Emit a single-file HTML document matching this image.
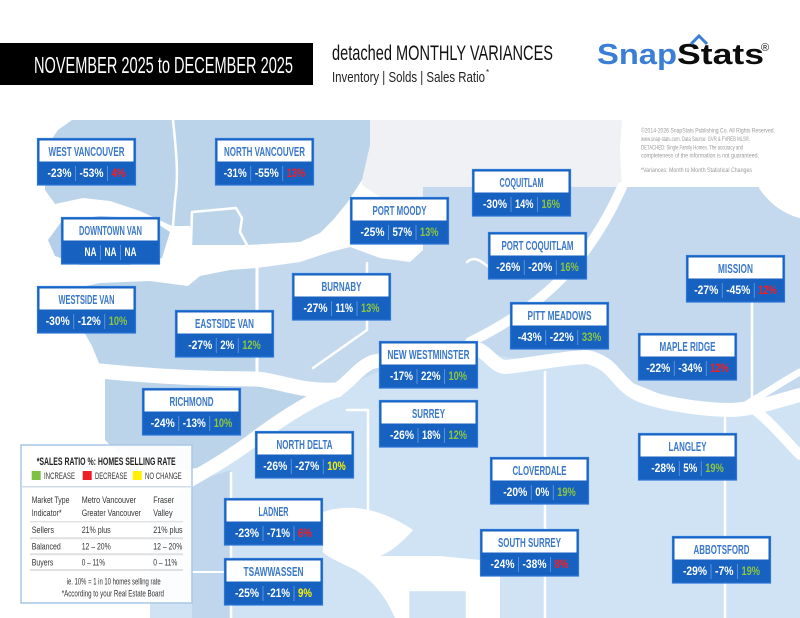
<!DOCTYPE html>
<html><head><meta charset="utf-8">
<style>
html,body{margin:0;padding:0;background:#fff;}
svg{display:block;}
.f{font-family:"Liberation Sans Narrow","Liberation Sans",Arial,sans-serif;}
.t{font-family:"Liberation Sans Narrow","Liberation Sans",Arial,sans-serif;font-weight:bold;font-size:12.5px;fill:#3a78c9;}
.n{font-family:"Liberation Sans Narrow","Liberation Sans",Arial,sans-serif;font-weight:bold;font-size:12px;fill:#fff;}
.g{fill:#8cc63f;}.r{fill:#ff1a1a;}.y{fill:#fff200;}
.lg{font-family:"Liberation Sans Narrow","Liberation Sans",Arial,sans-serif;font-size:9px;fill:#333;}
.cp{font-family:"Liberation Sans Narrow","Liberation Sans",Arial,sans-serif;font-size:6.3px;fill:#9a9a9a;}
</style></head>
<body>
<svg width="800" height="618" viewBox="0 0 800 618" xmlns="http://www.w3.org/2000/svg">
<rect x="0" y="0" width="800" height="618" fill="#fff"/>

<!-- MAP -->
<path d="M365,120 L622,120 L620,150 L622,187 L423,187 L423,212 L405,205 L385,200 L362,185 Z" fill="#eff1f4"/>
<path d="M72,120 L370,120 L370,145 L362,180 L347,203 L333,220 L320,233 L300,242 L247,245 L192,245 L190,226 L172,226 L140,211 L110,201 L83,198 L55,204 L45,190 L44,150 L58,130 Z" fill="#bcd4ea"/>
<path d="M257,268 L300,262 L330,252 L350,247 L380,258 L410,262 L423,250 L423,187 L763,187 L775,206 L800,214 L800,400 L700,410 L600,370 L500,360 L400,365 L340,392 L300,395 L257,380 Z" fill="#c4d9ee"/>
<path d="M58,292 L100,283 L150,281 L188,286 L200,276 L230,270 L257,268 L257,390 L110,390 L92,346 L76,318 Z" fill="#bcd4ea"/>
<path d="M105,375 L257,375 L300,395 L340,392 L300,420 L257,445 L223,465 L180,470 L120,455 L105,440 Z" fill="#bcd4ea"/>
<path d="M150,510 L190,480 L257,437 L337,390 L400,362 L480,352 L540,363 L600,365 L640,392 L700,408 L800,398 L800,618 L150,618 Z" fill="#d0e3f4"/>
<path d="M192,482 L231,470 L231,618 L192,618 Z" fill="#bfd6ec"/>
<path d="M48,240 L62,221 L100,216 L150,219 L170,232 L162,258 L130,265 L80,265 L55,256 Z" fill="#b5cfe9"/>
<path d="M307,390 L328,386 L332,400 L312,408 Z" fill="#b3cde8"/>

<!-- white water bodies -->
<path d="M323,512 C350,503 380,508 413,530 C400,545 388,553 380,556 L440,556 L500,562 L500,618 L395,618 C385,595 370,575 345,565 C335,560 326,556 323,552 Z" fill="#fff"/>
<rect x="408" y="590" width="59" height="30" fill="#d0e3f4" stroke="#fff" stroke-width="2.5"/>

<!-- rivers -->
<g fill="none" stroke="#fff" stroke-linecap="round" stroke-linejoin="round">
<path d="M100,371 C150,376 200,379 257,379 C280,381 300,392 337,390" stroke-width="15"/>
<path d="M120,520 C150,500 170,490 190,480 C215,466 240,450 257,437 C280,420 310,400 337,390 C350,382 358,368 372,362 C400,356 440,352 480,350 C490,356 495,366 505,367 C530,365 560,358 587,357 C600,360 608,366 613,372 C622,382 628,390 640,395 C660,403 700,410 733,410 C760,408 780,400 800,395" stroke-width="14"/>
<path d="M622,187 C605,225 585,255 560,280 C535,305 505,325 470,342" stroke-width="10"/>
<path d="M748,405 C770,420 785,440 800,455" stroke-width="10"/>
<path d="M750,402 C768,392 785,380 800,372" stroke-width="7"/>
<path d="M763,187 C772,200 785,210 800,214" stroke-width="8"/>
<path d="M173,120 C176,150 179,175 175,200 L173,226" stroke-width="2.5"/>
<path d="M191,244 L192,212 L236,208 L242,218 L240,232 L247,245" stroke-width="2.5"/>
<path d="M257,266 L257,375" stroke-width="3"/>
<path d="M367,263 L367,330 L313,368" stroke-width="2.5"/>
<path d="M752,297 L752,400" stroke-width="2.5"/>
<path d="M545,372 L545,618" stroke-width="2.5"/>
<path d="M725,418 L725,618" stroke-width="2.5"/>
<path d="M231,473 L231,618" stroke-width="2.5"/>
<path d="M347,410 L368,410 L368,513" stroke-width="2.5"/>
<path d="M192,572 L228,572" stroke-width="2"/>
<path d="M467,262 C475,255 482,262 490,268" stroke-width="2.5"/>
</g>

<!-- BOXES -->
<defs>
<g id="bx">
<rect x="0.5" y="0.5" width="98" height="46.5" fill="#1762c0" stroke="#2a75d6" stroke-width="1.2"/>
<rect x="2.5" y="2.5" width="94" height="21" fill="#fff"/>
</g>
</defs>

<!-- West Vancouver -->
<g transform="translate(37,138)"><use href="#bx"/>
<text class="t" x="49.5" y="17.8" text-anchor="middle" textLength="76" lengthAdjust="spacingAndGlyphs">WEST VANCOUVER</text>
<line x1="38.5" y1="28" x2="38.5" y2="43" stroke="#6a9de0" stroke-width="0.8"/><line x1="70.5" y1="28" x2="70.5" y2="43" stroke="#6a9de0" stroke-width="0.8"/>
<text class="n" x="10.5" y="39" textLength="24" lengthAdjust="spacingAndGlyphs">-23%</text>
<text class="n" x="42.5" y="39" textLength="24" lengthAdjust="spacingAndGlyphs">-53%</text>
<text class="n r" x="74.5" y="39" textLength="14" lengthAdjust="spacingAndGlyphs">4%</text></g>

<!-- North Vancouver -->
<g transform="translate(215,138)"><use href="#bx"/>
<text class="t" x="49.5" y="17.8" text-anchor="middle" textLength="81" lengthAdjust="spacingAndGlyphs">NORTH VANCOUVER</text>
<line x1="35.75" y1="28" x2="35.75" y2="43" stroke="#6a9de0" stroke-width="0.8"/><line x1="67.75" y1="28" x2="67.75" y2="43" stroke="#6a9de0" stroke-width="0.8"/>
<text class="n" x="8.75" y="39" textLength="23" lengthAdjust="spacingAndGlyphs">-31%</text>
<text class="n" x="39.75" y="39" textLength="24" lengthAdjust="spacingAndGlyphs">-55%</text>
<text class="n r" x="71.75" y="39" textLength="18.5" lengthAdjust="spacingAndGlyphs">13%</text></g>

<!-- Downtown Van -->
<g transform="translate(61,217)"><use href="#bx"/>
<text class="t" x="49.5" y="17.8" text-anchor="middle" textLength="63" lengthAdjust="spacingAndGlyphs">DOWNTOWN VAN</text>
<line x1="39.5" y1="28" x2="39.5" y2="43" stroke="#6a9de0" stroke-width="0.8"/><line x1="59.5" y1="28" x2="59.5" y2="43" stroke="#6a9de0" stroke-width="0.8"/>
<text class="n" x="23.5" y="39" textLength="12" lengthAdjust="spacingAndGlyphs">NA</text>
<text class="n" x="43.5" y="39" textLength="12" lengthAdjust="spacingAndGlyphs">NA</text>
<text class="n" x="63.5" y="39" textLength="12" lengthAdjust="spacingAndGlyphs">NA</text></g>

<!-- Westside Van -->
<g transform="translate(37,286)"><use href="#bx"/>
<text class="t" x="49.5" y="17.8" text-anchor="middle" textLength="56" lengthAdjust="spacingAndGlyphs">WESTSIDE VAN</text>
<line x1="36.75" y1="28" x2="36.75" y2="43" stroke="#6a9de0" stroke-width="0.8"/><line x1="67.75" y1="28" x2="67.75" y2="43" stroke="#6a9de0" stroke-width="0.8"/>
<text class="n" x="8.75" y="39" textLength="24" lengthAdjust="spacingAndGlyphs">-30%</text>
<text class="n" x="40.75" y="39" textLength="23" lengthAdjust="spacingAndGlyphs">-12%</text>
<text class="n g" x="71.75" y="39" textLength="18.5" lengthAdjust="spacingAndGlyphs">10%</text></g>

<!-- Eastside Van -->
<g transform="translate(175,310)"><use href="#bx"/>
<text class="t" x="49.5" y="17.8" text-anchor="middle" textLength="59" lengthAdjust="spacingAndGlyphs">EASTSIDE VAN</text>
<line x1="41.25" y1="28" x2="41.25" y2="43" stroke="#6a9de0" stroke-width="0.8"/><line x1="63.25" y1="28" x2="63.25" y2="43" stroke="#6a9de0" stroke-width="0.8"/>
<text class="n" x="13.25" y="39" textLength="24" lengthAdjust="spacingAndGlyphs">-27%</text>
<text class="n" x="45.25" y="39" textLength="14" lengthAdjust="spacingAndGlyphs">2%</text>
<text class="n g" x="67.25" y="39" textLength="18.5" lengthAdjust="spacingAndGlyphs">12%</text></g>

<!-- Burnaby -->
<g transform="translate(292,273)"><use href="#bx"/>
<text class="t" x="49.5" y="17.8" text-anchor="middle" textLength="40" lengthAdjust="spacingAndGlyphs">BURNABY</text>
<line x1="39.5" y1="28" x2="39.5" y2="43" stroke="#6a9de0" stroke-width="0.8"/><line x1="65" y1="28" x2="65" y2="43" stroke="#6a9de0" stroke-width="0.8"/>
<text class="n" x="11.5" y="39" textLength="24" lengthAdjust="spacingAndGlyphs">-27%</text>
<text class="n" x="43.5" y="39" textLength="17.5" lengthAdjust="spacingAndGlyphs">11%</text>
<text class="n g" x="69" y="39" textLength="18.5" lengthAdjust="spacingAndGlyphs">13%</text></g>

<!-- Richmond -->
<g transform="translate(142,388)"><use href="#bx"/>
<text class="t" x="49.5" y="17.8" text-anchor="middle" textLength="44" lengthAdjust="spacingAndGlyphs">RICHMOND</text>
<line x1="36.75" y1="28" x2="36.75" y2="43" stroke="#6a9de0" stroke-width="0.8"/><line x1="67.75" y1="28" x2="67.75" y2="43" stroke="#6a9de0" stroke-width="0.8"/>
<text class="n" x="8.75" y="39" textLength="24" lengthAdjust="spacingAndGlyphs">-24%</text>
<text class="n" x="40.75" y="39" textLength="23" lengthAdjust="spacingAndGlyphs">-13%</text>
<text class="n g" x="71.75" y="39" textLength="18.5" lengthAdjust="spacingAndGlyphs">10%</text></g>

<!-- North Delta -->
<g transform="translate(255,431)"><use href="#bx"/>
<text class="t" x="49.5" y="17.8" text-anchor="middle" textLength="56" lengthAdjust="spacingAndGlyphs">NORTH DELTA</text>
<line x1="36.25" y1="28" x2="36.25" y2="43" stroke="#6a9de0" stroke-width="0.8"/><line x1="68.25" y1="28" x2="68.25" y2="43" stroke="#6a9de0" stroke-width="0.8"/>
<text class="n" x="8.25" y="39" textLength="24" lengthAdjust="spacingAndGlyphs">-26%</text>
<text class="n" x="40.25" y="39" textLength="24" lengthAdjust="spacingAndGlyphs">-27%</text>
<text class="n y" x="72.25" y="39" textLength="18.5" lengthAdjust="spacingAndGlyphs">10%</text></g>

<!-- Ladner -->
<g transform="translate(224,498)"><use href="#bx"/>
<text class="t" x="49.5" y="17.8" text-anchor="middle" textLength="30" lengthAdjust="spacingAndGlyphs">LADNER</text>
<line x1="39" y1="28" x2="39" y2="43" stroke="#6a9de0" stroke-width="0.8"/><line x1="70" y1="28" x2="70" y2="43" stroke="#6a9de0" stroke-width="0.8"/>
<text class="n" x="11" y="39" textLength="24" lengthAdjust="spacingAndGlyphs">-23%</text>
<text class="n" x="43" y="39" textLength="23" lengthAdjust="spacingAndGlyphs">-71%</text>
<text class="n r" x="74" y="39" textLength="14" lengthAdjust="spacingAndGlyphs">6%</text></g>

<!-- Tsawwassen -->
<g transform="translate(224,558)"><use href="#bx"/>
<text class="t" x="49.5" y="17.8" text-anchor="middle" textLength="60" lengthAdjust="spacingAndGlyphs">TSAWWASSEN</text>
<line x1="39" y1="28" x2="39" y2="43" stroke="#6a9de0" stroke-width="0.8"/><line x1="70" y1="28" x2="70" y2="43" stroke="#6a9de0" stroke-width="0.8"/>
<text class="n" x="11" y="39" textLength="24" lengthAdjust="spacingAndGlyphs">-25%</text>
<text class="n" x="43" y="39" textLength="23" lengthAdjust="spacingAndGlyphs">-21%</text>
<text class="n y" x="74" y="39" textLength="14" lengthAdjust="spacingAndGlyphs">9%</text></g>

<!-- Port Moody -->
<g transform="translate(350,197)"><use href="#bx"/>
<text class="t" x="49.5" y="17.8" text-anchor="middle" textLength="54" lengthAdjust="spacingAndGlyphs">PORT MOODY</text>
<line x1="38.5" y1="28" x2="38.5" y2="43" stroke="#6a9de0" stroke-width="0.8"/><line x1="66" y1="28" x2="66" y2="43" stroke="#6a9de0" stroke-width="0.8"/>
<text class="n" x="10.5" y="39" textLength="24" lengthAdjust="spacingAndGlyphs">-25%</text>
<text class="n" x="42.5" y="39" textLength="19.5" lengthAdjust="spacingAndGlyphs">57%</text>
<text class="n g" x="70" y="39" textLength="18.5" lengthAdjust="spacingAndGlyphs">13%</text></g>

<!-- Coquitlam -->
<g transform="translate(472,169)"><use href="#bx"/>
<text class="t" x="49.5" y="17.8" text-anchor="middle" textLength="44" lengthAdjust="spacingAndGlyphs">COQUITLAM</text>
<line x1="39" y1="28" x2="39" y2="43" stroke="#6a9de0" stroke-width="0.8"/><line x1="65.5" y1="28" x2="65.5" y2="43" stroke="#6a9de0" stroke-width="0.8"/>
<text class="n" x="11" y="39" textLength="24" lengthAdjust="spacingAndGlyphs">-30%</text>
<text class="n" x="43" y="39" textLength="18.5" lengthAdjust="spacingAndGlyphs">14%</text>
<text class="n g" x="69.5" y="39" textLength="18.5" lengthAdjust="spacingAndGlyphs">16%</text></g>

<!-- Port Coquitlam -->
<g transform="translate(488,232)"><use href="#bx"/>
<text class="t" x="49.5" y="17.8" text-anchor="middle" textLength="72" lengthAdjust="spacingAndGlyphs">PORT COQUITLAM</text>
<line x1="36.25" y1="28" x2="36.25" y2="43" stroke="#6a9de0" stroke-width="0.8"/><line x1="68.25" y1="28" x2="68.25" y2="43" stroke="#6a9de0" stroke-width="0.8"/>
<text class="n" x="8.25" y="39" textLength="24" lengthAdjust="spacingAndGlyphs">-26%</text>
<text class="n" x="40.25" y="39" textLength="24" lengthAdjust="spacingAndGlyphs">-20%</text>
<text class="n g" x="72.25" y="39" textLength="18.5" lengthAdjust="spacingAndGlyphs">16%</text></g>

<!-- Mission -->
<g transform="translate(686,255)"><use href="#bx"/>
<text class="t" x="49.5" y="17.8" text-anchor="middle" textLength="35" lengthAdjust="spacingAndGlyphs">MISSION</text>
<line x1="36.25" y1="28" x2="36.25" y2="43" stroke="#6a9de0" stroke-width="0.8"/><line x1="68.25" y1="28" x2="68.25" y2="43" stroke="#6a9de0" stroke-width="0.8"/>
<text class="n" x="8.25" y="39" textLength="24" lengthAdjust="spacingAndGlyphs">-27%</text>
<text class="n" x="40.25" y="39" textLength="24" lengthAdjust="spacingAndGlyphs">-45%</text>
<text class="n r" x="72.25" y="39" textLength="18.5" lengthAdjust="spacingAndGlyphs">12%</text></g>

<!-- Pitt Meadows -->
<g transform="translate(510,302)"><use href="#bx"/>
<text class="t" x="49.5" y="17.8" text-anchor="middle" textLength="64" lengthAdjust="spacingAndGlyphs">PITT MEADOWS</text>
<line x1="35.75" y1="28" x2="35.75" y2="43" stroke="#6a9de0" stroke-width="0.8"/><line x1="67.75" y1="28" x2="67.75" y2="43" stroke="#6a9de0" stroke-width="0.8"/>
<text class="n" x="7.75" y="39" textLength="24" lengthAdjust="spacingAndGlyphs">-43%</text>
<text class="n" x="39.75" y="39" textLength="24" lengthAdjust="spacingAndGlyphs">-22%</text>
<text class="n g" x="71.75" y="39" textLength="19.5" lengthAdjust="spacingAndGlyphs">33%</text></g>

<!-- New Westminster -->
<g transform="translate(379,341)"><use href="#bx"/>
<text class="t" x="49.5" y="17.8" text-anchor="middle" textLength="82" lengthAdjust="spacingAndGlyphs">NEW WESTMINSTER</text>
<line x1="38" y1="28" x2="38" y2="43" stroke="#6a9de0" stroke-width="0.8"/><line x1="65.5" y1="28" x2="65.5" y2="43" stroke="#6a9de0" stroke-width="0.8"/>
<text class="n" x="11" y="39" textLength="23" lengthAdjust="spacingAndGlyphs">-17%</text>
<text class="n" x="42" y="39" textLength="19.5" lengthAdjust="spacingAndGlyphs">22%</text>
<text class="n g" x="69.5" y="39" textLength="18.5" lengthAdjust="spacingAndGlyphs">10%</text></g>

<!-- Maple Ridge -->
<g transform="translate(638,333)"><use href="#bx"/>
<text class="t" x="49.5" y="17.8" text-anchor="middle" textLength="56" lengthAdjust="spacingAndGlyphs">MAPLE RIDGE</text>
<line x1="36.25" y1="28" x2="36.25" y2="43" stroke="#6a9de0" stroke-width="0.8"/><line x1="68.25" y1="28" x2="68.25" y2="43" stroke="#6a9de0" stroke-width="0.8"/>
<text class="n" x="8.25" y="39" textLength="24" lengthAdjust="spacingAndGlyphs">-22%</text>
<text class="n" x="40.25" y="39" textLength="24" lengthAdjust="spacingAndGlyphs">-34%</text>
<text class="n r" x="72.25" y="39" textLength="18.5" lengthAdjust="spacingAndGlyphs">12%</text></g>

<!-- Surrey -->
<g transform="translate(379,400)"><use href="#bx"/>
<text class="t" x="49.5" y="17.8" text-anchor="middle" textLength="33" lengthAdjust="spacingAndGlyphs">SURREY</text>
<line x1="39" y1="28" x2="39" y2="43" stroke="#6a9de0" stroke-width="0.8"/><line x1="65.5" y1="28" x2="65.5" y2="43" stroke="#6a9de0" stroke-width="0.8"/>
<text class="n" x="11" y="39" textLength="24" lengthAdjust="spacingAndGlyphs">-26%</text>
<text class="n" x="43" y="39" textLength="18.5" lengthAdjust="spacingAndGlyphs">18%</text>
<text class="n g" x="69.5" y="39" textLength="18.5" lengthAdjust="spacingAndGlyphs">12%</text></g>

<!-- Langley -->
<g transform="translate(638,433)"><use href="#bx"/>
<text class="t" x="49.5" y="17.8" text-anchor="middle" textLength="38" lengthAdjust="spacingAndGlyphs">LANGLEY</text>
<line x1="41.25" y1="28" x2="41.25" y2="43" stroke="#6a9de0" stroke-width="0.8"/><line x1="63.25" y1="28" x2="63.25" y2="43" stroke="#6a9de0" stroke-width="0.8"/>
<text class="n" x="13.25" y="39" textLength="24" lengthAdjust="spacingAndGlyphs">-28%</text>
<text class="n" x="45.25" y="39" textLength="14" lengthAdjust="spacingAndGlyphs">5%</text>
<text class="n g" x="67.25" y="39" textLength="18.5" lengthAdjust="spacingAndGlyphs">19%</text></g>

<!-- Cloverdale -->
<g transform="translate(490,457)"><use href="#bx"/>
<text class="t" x="49.5" y="17.8" text-anchor="middle" textLength="54" lengthAdjust="spacingAndGlyphs">CLOVERDALE</text>
<line x1="41.25" y1="28" x2="41.25" y2="43" stroke="#6a9de0" stroke-width="0.8"/><line x1="63.25" y1="28" x2="63.25" y2="43" stroke="#6a9de0" stroke-width="0.8"/>
<text class="n" x="13.25" y="39" textLength="24" lengthAdjust="spacingAndGlyphs">-20%</text>
<text class="n" x="45.25" y="39" textLength="14" lengthAdjust="spacingAndGlyphs">0%</text>
<text class="n g" x="67.25" y="39" textLength="18.5" lengthAdjust="spacingAndGlyphs">19%</text></g>

<!-- South Surrey -->
<g transform="translate(480,529)"><use href="#bx"/>
<text class="t" x="49.5" y="17.8" text-anchor="middle" textLength="63" lengthAdjust="spacingAndGlyphs">SOUTH SURREY</text>
<line x1="38.5" y1="28" x2="38.5" y2="43" stroke="#6a9de0" stroke-width="0.8"/><line x1="70.5" y1="28" x2="70.5" y2="43" stroke="#6a9de0" stroke-width="0.8"/>
<text class="n" x="10.5" y="39" textLength="24" lengthAdjust="spacingAndGlyphs">-24%</text>
<text class="n" x="42.5" y="39" textLength="24" lengthAdjust="spacingAndGlyphs">-38%</text>
<text class="n r" x="74.5" y="39" textLength="14" lengthAdjust="spacingAndGlyphs">8%</text></g>

<!-- Abbotsford -->
<g transform="translate(672,536)"><use href="#bx"/>
<text class="t" x="49.5" y="17.8" text-anchor="middle" textLength="56" lengthAdjust="spacingAndGlyphs">ABBOTSFORD</text>
<line x1="39" y1="28" x2="39" y2="43" stroke="#6a9de0" stroke-width="0.8"/><line x1="65.5" y1="28" x2="65.5" y2="43" stroke="#6a9de0" stroke-width="0.8"/>
<text class="n" x="11" y="39" textLength="24" lengthAdjust="spacingAndGlyphs">-29%</text>
<text class="n" x="43" y="39" textLength="18.5" lengthAdjust="spacingAndGlyphs">-7%</text>
<text class="n g" x="69.5" y="39" textLength="18.5" lengthAdjust="spacingAndGlyphs">19%</text></g>

<!-- LEGEND -->
<rect x="21" y="445" width="171" height="158" fill="#fff" fill-opacity="0.93" stroke="#a9c7e8" stroke-width="1.5"/>
<text class="f" x="36.7" y="465" font-size="11" font-weight="bold" fill="#222" textLength="139" lengthAdjust="spacingAndGlyphs">*SALES RATIO %: HOMES SELLING RATE</text>
<rect x="31.7" y="471" width="9" height="9" fill="#7dc242"/>
<text class="lg" x="44" y="479" font-size="9.5" textLength="31" lengthAdjust="spacingAndGlyphs">INCREASE</text>
<rect x="82.7" y="471" width="9" height="9" fill="#ee1c25"/>
<text class="lg" x="95" y="479" font-size="9.5" textLength="32.3" lengthAdjust="spacingAndGlyphs">DECREASE</text>
<rect x="132.7" y="471" width="9" height="9" fill="#fff200"/>
<text class="lg" x="145" y="479" font-size="9.5" textLength="36.7" lengthAdjust="spacingAndGlyphs">NO CHANGE</text>
<line x1="21" y1="486.7" x2="192" y2="486.7" stroke="#d0dbe8" stroke-width="1.5"/>
<text class="lg" x="31.7" y="503" textLength="37.7" lengthAdjust="spacingAndGlyphs">Market Type</text>
<text class="lg" x="31.7" y="516" textLength="30" lengthAdjust="spacingAndGlyphs">Indicator*</text>
<text class="lg" x="81.7" y="503" textLength="54.3" lengthAdjust="spacingAndGlyphs">Metro Vancouver</text>
<text class="lg" x="81.7" y="516" textLength="59.3" lengthAdjust="spacingAndGlyphs">Greater Vancouver</text>
<text class="lg" x="153.3" y="503" textLength="20.7" lengthAdjust="spacingAndGlyphs">Fraser</text>
<text class="lg" x="153.3" y="516" textLength="19.3" lengthAdjust="spacingAndGlyphs">Valley</text>
<line x1="30" y1="521.7" x2="183" y2="521.7" stroke="#d6d6d6" stroke-width="1"/>
<text class="lg" x="31.7" y="533" textLength="22.3" lengthAdjust="spacingAndGlyphs">Sellers</text>
<text class="lg" x="81.7" y="533" textLength="29" lengthAdjust="spacingAndGlyphs">21% plus</text>
<text class="lg" x="153.3" y="533" textLength="29.3" lengthAdjust="spacingAndGlyphs">21% plus</text>
<line x1="30" y1="538.3" x2="183" y2="538.3" stroke="#e0e0e0" stroke-width="2"/>
<text class="lg" x="31.7" y="549.3" textLength="29" lengthAdjust="spacingAndGlyphs">Balanced</text>
<text class="lg" x="81.7" y="549.3" textLength="29" lengthAdjust="spacingAndGlyphs">12 – 20%</text>
<text class="lg" x="153.3" y="549.3" textLength="29" lengthAdjust="spacingAndGlyphs">12 – 20%</text>
<line x1="30" y1="554.3" x2="183" y2="554.3" stroke="#e0e0e0" stroke-width="2"/>
<text class="lg" x="31.7" y="565.7" textLength="21.7" lengthAdjust="spacingAndGlyphs">Buyers</text>
<text class="lg" x="81.7" y="565.7" textLength="23.3" lengthAdjust="spacingAndGlyphs">0 – 11%</text>
<text class="lg" x="153.3" y="565.7" textLength="24" lengthAdjust="spacingAndGlyphs">0 – 11%</text>
<line x1="30" y1="570" x2="183" y2="570" stroke="#e0e0e0" stroke-width="2"/>
<text class="lg" x="66.7" y="584.3" textLength="94" lengthAdjust="spacingAndGlyphs">ie. 10% = 1 in 10 homes selling rate</text>
<text class="lg" x="61.7" y="596.7" textLength="102.3" lengthAdjust="spacingAndGlyphs">*According to your Real Estate Board</text>

<!-- HEADER -->
<rect x="0" y="43" width="313" height="42" fill="#000"/>
<text class="f" x="34" y="73" font-size="23" fill="#fff" textLength="259" lengthAdjust="spacingAndGlyphs">NOVEMBER 2025 to DECEMBER 2025</text>
<text class="f" x="332" y="60" font-size="21" fill="#111" textLength="221" lengthAdjust="spacingAndGlyphs">detached MONTHLY VARIANCES</text>
<text class="f" x="332" y="82" font-size="14.5" fill="#222" textLength="153" lengthAdjust="spacingAndGlyphs">Inventory | Solds | Sales Ratio</text>
<text class="f" x="486" y="75" font-size="8" fill="#222">*</text>

<!-- LOGO -->
<text class="f" x="597" y="64" font-size="29" font-weight="bold" fill="#3a7fd5" textLength="80" lengthAdjust="spacingAndGlyphs">Snap</text>
<text class="f" x="677" y="64" font-size="29" font-weight="bold" fill="#0d0d0d" textLength="87" lengthAdjust="spacingAndGlyphs">Stats</text>
<path d="M691,44 L699,36 L707,44" stroke="#3a7fd5" stroke-width="3" fill="none"/>
<text class="f" x="761" y="51" font-size="11" fill="#111">®</text>

<!-- COPYRIGHT -->
<text class="cp" x="641" y="132.5" textLength="134" lengthAdjust="spacingAndGlyphs">©2014-2026 SnapStats Publishing Co. All Rights Reserved.</text>
<text class="cp" x="641" y="141" textLength="109" lengthAdjust="spacingAndGlyphs">www.snap-stats.com. Data Source: GVR &amp; FVREB MLS®.</text>
<text class="cp" x="641" y="149.3" textLength="102" lengthAdjust="spacingAndGlyphs">DETACHED: Single Family Homes. The accuracy and</text>
<text class="cp" x="641" y="157.5" textLength="118" lengthAdjust="spacingAndGlyphs">completeness of the information is not guaranteed.</text>
<text class="cp" x="641" y="172" textLength="111" lengthAdjust="spacingAndGlyphs">*Variances: Month to Month Statistical Changes</text>
</svg>
</body></html>
